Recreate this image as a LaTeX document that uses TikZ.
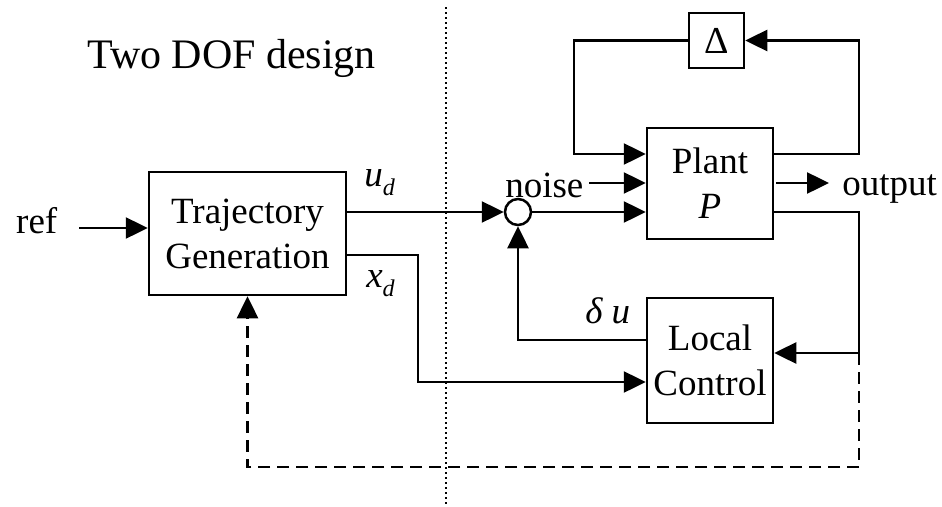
\documentclass[tikz,border=0pt]{standalone}
\usepackage{fontspec}
\setmainfont{Liberation Serif}
\usetikzlibrary{arrows.meta}
\begin{document}
\begin{tikzpicture}[x=1pt,y=-1pt, line width=2.5pt,
  box/.style={draw, rectangle, inner sep=0pt, align=center, font=\fontsize{37}{45}\selectfont},
  lbl/.style={anchor=base west, inner sep=0pt, font=\fontsize{37}{45}\selectfont},
  arr/.style={-{Triangle[length=22pt,width=21pt]}}]
\useasboundingbox (0,0) rectangle (942,506);
% blocks
\node[box, minimum width=197pt, minimum height=123pt] (traj) at (247.5,233.5) {Trajectory\\Generation};
\node[box, minimum width=126pt, minimum height=111pt] (plant) at (710,183.5) {Plant\\\textit{P}};
\node[box, minimum width=55pt, minimum height=55pt, font=\fontsize{38}{40}\selectfont] (delta) at (716.5,40.5) {Δ};
\node[box, minimum width=126pt, minimum height=125pt] (local) at (710,360.5) {Local\\Control};
\node[draw, circle, minimum size=26pt, inner sep=0pt] (sum) at (518,212) {};
% labels
\node[lbl, font=\fontsize{42}{50}\selectfont] (title) at (86,68) {Two DOF design};
\node[lbl] (ref) at (15,233) {ref};
\node[lbl] (noise) at (504,197) {noise};
\node[lbl] (out) at (841,195) {output};
\node[lbl] (ud) at (363,186) {\textit{u}\raisebox{-9pt}{\fontsize{24}{24}\selectfont\textit{d}}};
\node[lbl] (xd) at (365,287) {\textit{x}\raisebox{-9pt}{\fontsize{24}{24}\selectfont\textit{d}}};
\node[lbl] (du) at (584,323) {\textit{δ u}};
% coordinates
\coordinate (refs) at (79,228);
\coordinate (ns) at (589,183);
\coordinate (dl) at (574,154);
\coordinate (pr) at (859,154);
\coordinate (os) at (776,183);
\coordinate (oe) at (829,183);
\coordinate (fb) at (859,353);
\coordinate (db) at (859,467);
\coordinate (xc) at (418,255);
\coordinate (xl) at (418,382);
\coordinate (dy) at (0,340);
\coordinate (dt) at (446,7);
\coordinate (dbm) at (446,505);
% connectors
\draw[arr] (refs) -- (refs -| traj.west);
\draw[arr] (traj.east |- sum) -- (sum.west);
\draw[arr] (sum.east) -- (sum.east -| plant.west);
\draw[arr] (ns) -- (ns -| plant.west);
\draw[arr] (delta.west) -| (dl) -- (dl -| plant.west);
\draw[arr] (pr -| plant.east) -- (pr) |- (delta.east);
\draw[arr] (os) -- (oe);
\draw[arr] (plant.east |- sum) -| (fb) -- (fb -| local.east);
\draw[arr, dash pattern=on 12pt off 7pt] (fb) -- (db) -| (traj.south);
\draw[arr] (traj.east |- xc) -- (xc) -- (xl) -- (xl -| local.west);
\draw[arr] (local.west |- dy) -| (sum.south);
\draw[line width=2.4pt, dash pattern=on 2.4pt off 2.6pt] (dt) -- (dbm);
\end{tikzpicture}
\end{document}
